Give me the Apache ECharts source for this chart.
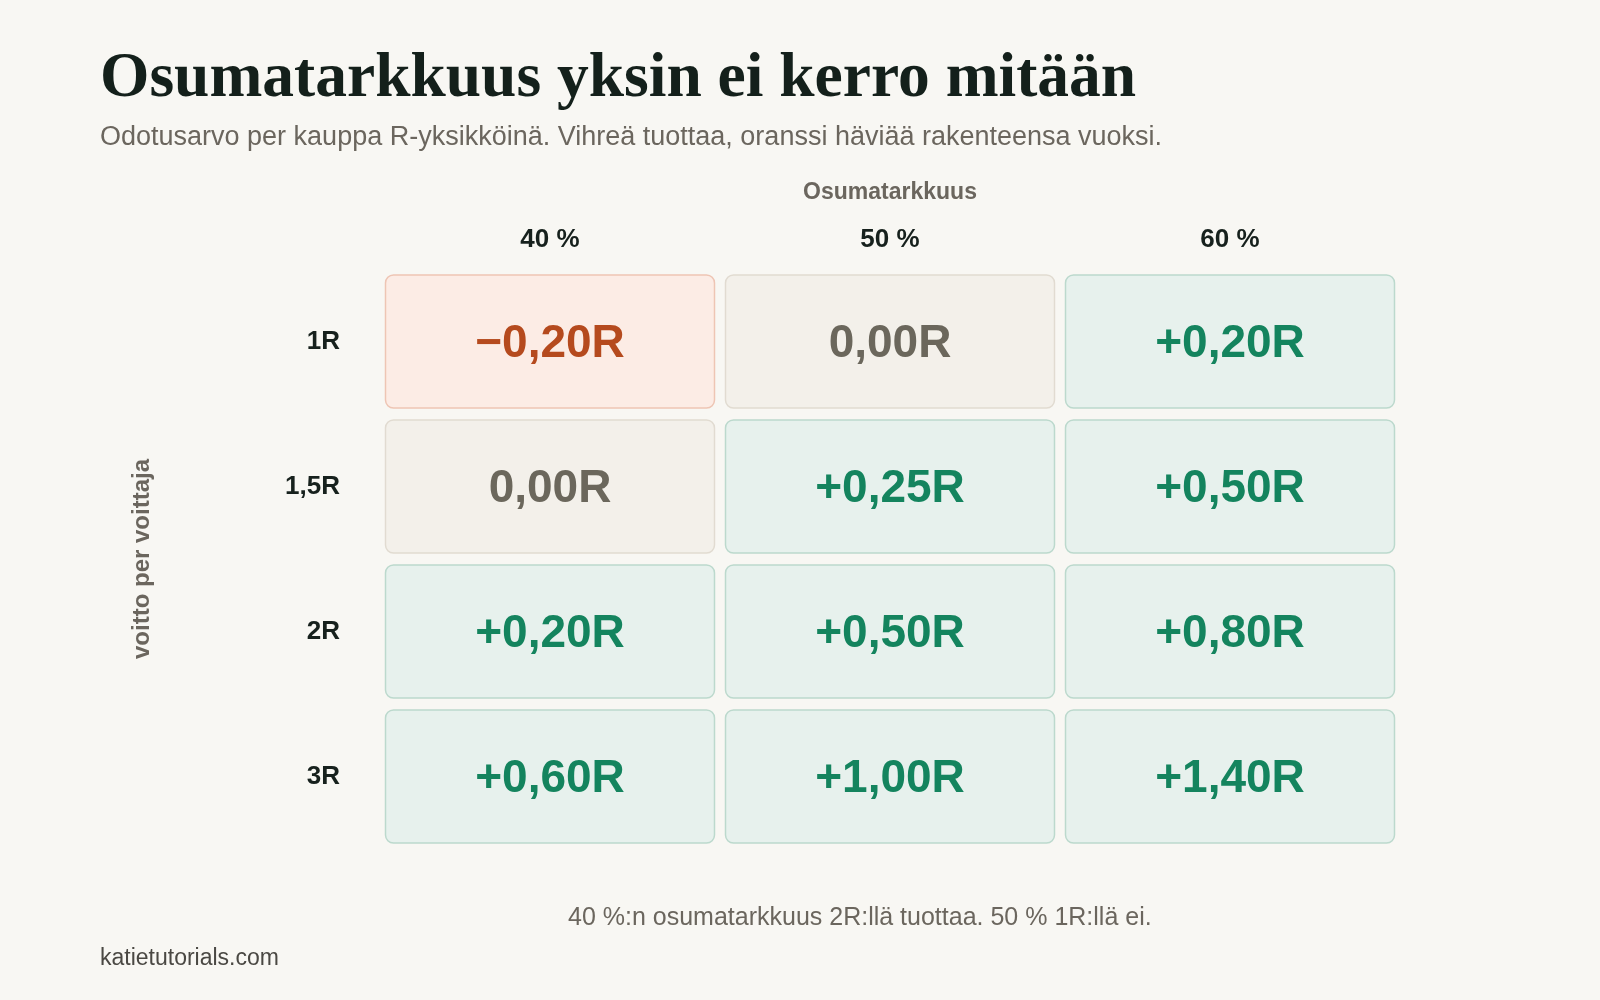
<!DOCTYPE html>
<html>
<head>
    <meta charset="utf-8">
    <title>Osumatarkkuus yksin ei kerro mitään</title>
    <script src="https://cdn.jsdelivr.net/npm/echarts@6/dist/echarts.min.js"></script>
    <style>
        html, body { margin: 0; padding: 0; background: #f8f7f3; }
        #chart { width: 1600px; height: 1000px; }
    </style>
</head>
<body>
<div id="chart"></div>
<script>
    // osumatarkkuus (sarakkeet) ja voiton koko (rivit)
    var accuracy = ['40 %', '50 %', '60 %'];
    var winSizes = ['1R', '1,5R', '2R', '3R'];
    // odotusarvo R-yksikköinä, rivi per voiton koko
    var ev1R = [-0.20, 0.00, 0.20];
    var ev15R = [0.00, 0.25, 0.50];
    var ev2R = [0.20, 0.50, 0.80];
    var ev3R = [0.60, 1.00, 1.40];
    var evRows = [ev1R, ev15R, ev2R, ev3R];

    var chart = echarts.init(document.getElementById('chart'));

    var cells = [];
    evRows.forEach(function (row, r) {
        row.forEach(function (v, c) {
            cells.push([c, r, v]);
        });
    });

    function fmt(v) {
        var s = Math.abs(v).toFixed(2).replace('.', ',') + 'R';
        if (v > 0) return '+' + s;
        if (v < 0) return '\u2212' + s;
        return s;
    }

    function palette(v) {
        if (v < 0) return { fill: '#fcece5', stroke: '#eec5b4', text: '#b54a1e' };
        if (v > 0) return { fill: '#e7f1ed', stroke: '#bcd9cd', text: '#14845e' };
        return { fill: '#f3f0ea', stroke: '#e1dbd1', text: '#6b675c' };
    }

    var sans = '"Liberation Sans", Arial, Helvetica, sans-serif';

    var option = {
        backgroundColor: '#f8f7f3',
        title: [{
            text: 'Osumatarkkuus yksin ei kerro mitään',
            left: 100,
            top: 48,
            padding: 0,
            textStyle: {
                fontFamily: '"Liberation Serif", "Times New Roman", serif',
                fontSize: 63.5,
                fontWeight: 'bold',
                color: '#14201b'
            },
            subtext: 'Odotusarvo per kauppa R-yksikköinä. Vihreä tuottaa, oranssi häviää rakenteensa vuoksi.',
            itemGap: 12,
            subtextStyle: {
                fontFamily: sans,
                fontSize: 27,
                color: '#6b665e'
            }
        }, {
            text: '40 %:n osumatarkkuus 2R:llä tuottaa. 50 % 1R:llä ei.',
            left: 568,
            top: 906,
            padding: 0,
            textStyle: { fontFamily: sans, fontSize: 25, fontWeight: 'normal', color: '#6b665e' }
        }, {
            text: 'katietutorials.com',
            left: 100,
            top: 947,
            padding: 0,
            textStyle: { fontFamily: sans, fontSize: 23, fontWeight: 'normal', color: '#4a4843' }
        }],
        grid: { left: 380, right: 200, top: 269, bottom: 151 },
        xAxis: {
            type: 'category',
            position: 'top',
            data: accuracy,
            name: 'Osumatarkkuus',
            nameLocation: 'middle',
            nameGap: 65,
            nameTextStyle: { fontFamily: sans, fontSize: 23, fontWeight: 'bold', color: '#6b665e' },
            axisLine: { show: false },
            axisTick: { show: false },
            splitLine: { show: false },
            axisLabel: { margin: 16, fontFamily: sans, fontSize: 26, fontWeight: 'bold', color: '#17211d' }
        },
        yAxis: {
            type: 'category',
            inverse: true,
            data: winSizes,
            name: 'voitto per voittaja',
            nameLocation: 'middle',
            nameRotate: 90,
            nameGap: 226,
            nameTextStyle: { fontFamily: sans, fontSize: 24, fontWeight: 'bold', color: '#6b665e' },
            axisLine: { show: false },
            axisTick: { show: false },
            splitLine: { show: false },
            axisLabel: { margin: 40, fontFamily: sans, fontSize: 26, fontWeight: 'bold', color: '#17211d' }
        },
        series: [{
            type: 'custom',
            data: cells,
            renderItem: function (params, api) {
                var center = api.coord([api.value(0), api.value(1)]);
                var band = api.size([1, 1]);
                var v = api.value(2);
                var p = palette(v);
                var w = band[0] - 11;
                var h = band[1] - 12;
                return {
                    type: 'group',
                    children: [{
                        type: 'rect',
                        shape: { x: center[0] - w / 2, y: center[1] - h / 2, width: w, height: h, r: 8 },
                        style: { fill: p.fill, stroke: p.stroke, lineWidth: 1.5 }
                    }, {
                        type: 'text',
                        x: center[0],
                        y: center[1] + 3,
                        style: {
                            text: fmt(v),
                            align: 'center',
                            verticalAlign: 'middle',
                            fontFamily: sans,
                            fontSize: 46,
                            fontWeight: 'bold',
                            fill: p.text
                        }
                    }]
                };
            }
        }]
    };

    chart.setOption(option);

    window.onresize = function () {
        chart.resize();
    };
</script>
</body>
</html>
